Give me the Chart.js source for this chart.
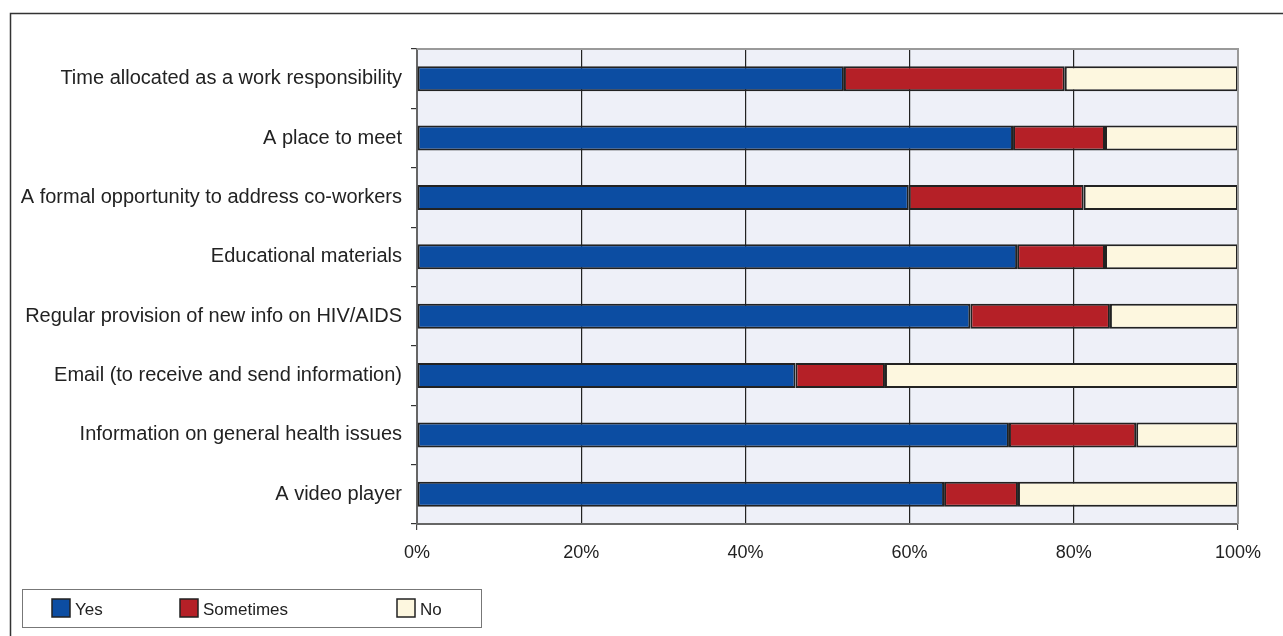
<!DOCTYPE html>
<html>
<head>
<meta charset="utf-8">
<script src="https://cdn.jsdelivr.net/npm/chart.js@4"></script>
<style>
  html, body { margin: 0; padding: 0; background: #fff; }
  #wrap { width: 1283px; height: 636px; }
</style>
</head>
<body>
<div id="wrap"><canvas id="myChart"></canvas></div>
<script>
// data (percent of respondents)
const categories = [
  'Time allocated as a work responsibility',
  'A place to meet',
  'A formal opportunity to address co-workers',
  'Educational materials',
  'Regular provision of new info on HIV/AIDS',
  'Email (to receive and send information)',
  'Information on general health issues',
  'A video player'
];
const yes       = [52.0, 72.6, 59.9, 73.1, 67.4, 46.1, 72.1, 64.2];
const sometimes = [26.9, 11.2, 21.3, 10.7, 17.0, 10.9, 15.5, 9.0];
const no        = [21.1, 16.2, 18.8, 16.2, 15.6, 43.0, 12.4, 26.8];
const xTicks    = [0, 20, 40, 60, 80, 100];

const FONT = 'Liberation Sans, Arial, sans-serif';

// plot background, frame lines and the boxed legend
const decor = {
  id: 'decor',
  beforeDraw(chart) {
    const { ctx, chartArea: a } = chart;
    ctx.save();
    ctx.fillStyle = '#eef0f8';
    ctx.fillRect(a.left, a.top, a.right - a.left, a.bottom - a.top);
    ctx.restore();
  },
  afterDraw(chart) {
    const { ctx, chartArea: a } = chart;
    ctx.save();
    // outer frame (top and left only)
    ctx.strokeStyle = '#333';
    ctx.lineWidth = 1.5;
    ctx.beginPath();
    ctx.moveTo(1283, 13.5);
    ctx.lineTo(10.5, 13.5);
    ctx.lineTo(10.5, 636);
    ctx.stroke();
    // grey top / right edges of plot
    ctx.strokeStyle = '#9a9a9a';
    ctx.lineWidth = 2;
    ctx.beginPath();
    ctx.moveTo(a.left, a.top);
    ctx.lineTo(a.right, a.top);
    ctx.lineTo(a.right, a.bottom);
    ctx.stroke();

    // legend
    ctx.strokeStyle = '#777';
    ctx.lineWidth = 1;
    ctx.strokeRect(22.5, 589.5, 459, 38);
    const xs = [52, 180, 397];
    ctx.font = '17px ' + FONT;
    ctx.textBaseline = 'middle';
    chart.data.datasets.forEach((ds, i) => {
      ctx.fillStyle = ds.backgroundColor;
      ctx.fillRect(xs[i], 599, 18, 18);
      ctx.strokeStyle = '#222';
      ctx.lineWidth = 1.5;
      ctx.strokeRect(xs[i], 599, 18, 18);
      ctx.fillStyle = '#222';
      ctx.fillText(ds.label, xs[i] + 23, 610);
    });
    ctx.restore();
  }
};

const data = {
  labels: categories,
  datasets: [{
    label: 'Yes',
    data: yes,
    backgroundColor: '#0c4da2',
    borderColor: '#222',
    borderWidth: 2
  }, {
    label: 'Sometimes',
    data: sometimes,
    backgroundColor: '#b52027',
    borderColor: '#222',
    borderWidth: 2
  }, {
    label: 'No',
    data: no,
    backgroundColor: '#fdf7df',
    borderColor: '#222',
    borderWidth: 2
  }]
};

const config = {
  type: 'bar',
  data,
  options: {
    indexAxis: 'y',
    responsive: true,
    maintainAspectRatio: false,
    animation: false,
    layout: { padding: { top: 49, right: 45, bottom: 72, left: 0 } },
    datasets: { bar: { categoryPercentage: 1, barPercentage: 0.42, borderSkipped: false } },
    plugins: { legend: { display: false }, tooltip: { enabled: false } },
    scales: {
      x: {
        stacked: true,
        min: 0,
        max: 100,
        afterBuildTicks(scale) { scale.ticks = xTicks.map(v => ({ value: v })); },
        afterFit(scale) { scale.height = 40; },
        border: { color: '#666', width: 2 },
        grid: {
          color: c => c.index === 0 ? '#666' : (c.index === xTicks.length - 1 ? '#9a9a9a' : '#222'),
          lineWidth: 1.2,
          tickLength: 6,
          tickColor: c => (c.index === 0 || c.index === xTicks.length - 1) ? '#444' : 'rgba(0,0,0,0)'
        },
        ticks: {
          callback: v => v + '%',
          color: '#222',
          padding: 12,
          font: { family: FONT, size: 18 }
        }
      },
      y: {
        stacked: true,
        afterFit(scale) { scale.width = 417; },
        border: { color: '#666', width: 2 },
        grid: { offset: true, drawOnChartArea: false, tickLength: 6, color: '#333', lineWidth: 1.2 },
        ticks: {
          color: '#222',
          padding: 9,
          font: { family: FONT, size: 20 }
        }
      }
    }
  },
  plugins: [decor]
};

const myChart = new Chart(document.getElementById('myChart'), config);
</script>
</body>
</html>
